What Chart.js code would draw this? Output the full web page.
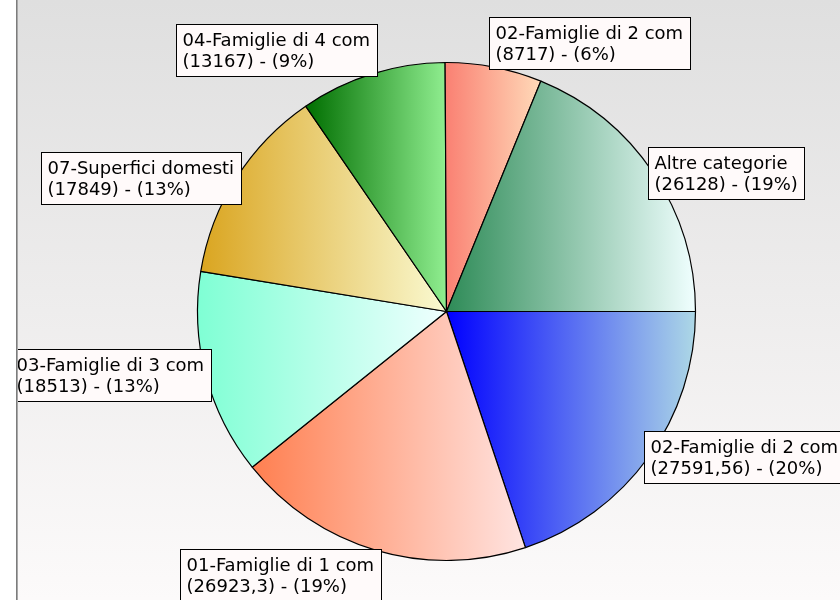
<!DOCTYPE html>
<html>
<head>
<meta charset="utf-8">
<script src="https://cdn.jsdelivr.net/npm/chart.js@4"></script>
<style>
  body { margin: 0; background: #fff; }
  #wrap { width: 840px; height: 600px; }
</style>
</head>
<body>
<div id="wrap"><canvas id="pieChart" width="840" height="600"></canvas></div>
<script>
// Data
const categories = ['02-Famiglie di 2 com', '01-Famiglie di 1 com', '03-Famiglie di 3 com',
    '07-Superfici domesti', '04-Famiglie di 4 com', '02-Famiglie di 2 com', 'Altre categorie'];
const values = [27591.56, 26923.3, 18513, 17849, 13167, 8717, 26128];

// slice gradients, left -> right
const colorFrom = ['#0000ff', '#ff7f50', '#7fffd4', '#daa520', '#006e00', '#fa8072', '#2e8b57'];
const colorTo = ['#add8e6', '#ffe4e1', '#f0ffff', '#fafad2', '#90ee90', '#ffdab9', '#f0ffff'];

const FRAME_X = 17;
const LABEL_FONT = '18px "DejaVu Sans", Verdana, sans-serif';

// background: white strip, gray frame line, vertical gradient
const backgroundPlugin = {
    id: 'background',
    beforeDraw(chart) {
        const ctx = chart.ctx;
        const w = chart.width, h = chart.height;
        ctx.save();
        ctx.fillStyle = '#ffffff';
        ctx.fillRect(0, 0, w, h);
        const g = ctx.createLinearGradient(0, 0, 0, h);
        g.addColorStop(0, '#dfdfdf');
        g.addColorStop(1, '#fcfafa');
        ctx.fillStyle = g;
        ctx.fillRect(FRAME_X + 1, 0, w - FRAME_X - 1, h);
        ctx.fillStyle = '#7c7c7c';
        ctx.fillRect(FRAME_X - 1, 0, 1, h);
        ctx.fillStyle = '#a8a8a8';
        ctx.fillRect(FRAME_X, 0, 1, h);
        ctx.restore();
    }
};

// does the angle range [a0, a1] contain angle t (mod 2pi)
function containsAngle(a0, a1, t) {
    const TWO_PI = Math.PI * 2;
    let s = ((a0 % TWO_PI) + TWO_PI) % TWO_PI;
    let e = s + (a1 - a0);
    for (let k = 0; k < 3; k++) {
        const tt = t + k * TWO_PI;
        if (tt >= s && tt <= e) return true;
    }
    return false;
}

// horizontal gradient across each slice's own width
const sliceGradientPlugin = {
    id: 'sliceGradient',
    beforeDatasetsDraw(chart) {
        const ctx = chart.ctx;
        const meta = chart.getDatasetMeta(0);
        meta.data.forEach((el, i) => {
            const {x, startAngle, endAngle, outerRadius} = el.getProps(['x', 'startAngle', 'endAngle', 'outerRadius'], true);
            const xs = [x, x + outerRadius * Math.cos(startAngle), x + outerRadius * Math.cos(endAngle)];
            if (containsAngle(startAngle, endAngle, 0)) xs.push(x + outerRadius);
            if (containsAngle(startAngle, endAngle, Math.PI)) xs.push(x - outerRadius);
            const g = ctx.createLinearGradient(Math.min(...xs), 0, Math.max(...xs), 0);
            g.addColorStop(0, colorFrom[i]);
            g.addColorStop(1, colorTo[i]);
            el.options.backgroundColor = g;
        });
    }
};

// boxed labels outside the slices
const labelPlugin = {
    id: 'boxLabels',
    afterDatasetsDraw(chart) {
        const ctx = chart.ctx;
        const meta = chart.getDatasetMeta(0);
        const total = values.reduce((a, b) => a + b, 0);
        ctx.save();
        ctx.beginPath();
        ctx.rect(FRAME_X + 1, 0, chart.width, chart.height);
        ctx.clip();
        ctx.font = LABEL_FONT;
        meta.data.forEach((el, i) => {
            const {x, y, startAngle, endAngle, outerRadius} = el.getProps(['x', 'y', 'startAngle', 'endAngle', 'outerRadius'], true);
            const mid = (startAngle + endAngle) / 2;
            const cos = Math.cos(mid), sin = Math.sin(mid);
            const ax = x + outerRadius * cos;
            const ay = y + outerRadius * sin;

            const pct = Math.round(values[i] / total * 100);
            const lines = [categories[i], '(' + String(values[i]).replace('.', ',') + ') - (' + pct + '%)'];
            const textW = Math.max(...lines.map(l => ctx.measureText(l).width));
            const boxW = Math.round(textW + 13);
            const boxH = 52;

            let left = cos >= 0 ? ax - 5 : ax + 5 - boxW;
            let top;
            if (sin > 0.8) top = ay - 1;
            else if (sin < -0.8) top = ay + 2 - boxH;
            else top = ay - boxH / 2;
            left = Math.round(left) + 0.5;
            top = Math.round(top) + 0.5;

            ctx.fillStyle = '#fffafa';
            ctx.fillRect(left, top, boxW, boxH);
            ctx.strokeStyle = '#000000';
            ctx.lineWidth = 1;
            ctx.strokeRect(left, top, boxW, boxH);

            ctx.fillStyle = '#000000';
            ctx.textBaseline = 'alphabetic';
            ctx.textAlign = 'left';
            ctx.fillText(lines[0], left + 6, top + 21.5);
            ctx.fillText(lines[1], left + 6, top + 42);
        });
        ctx.restore();
    }
};

const pieChart = new Chart(document.getElementById('pieChart').getContext('2d'), {
    type: 'pie',
    data: {
        labels: categories,
        datasets: [{
            data: values,
            backgroundColor: (c) => colorFrom[c.dataIndex],
            borderColor: '#000000',
            borderWidth: 1.2,
            radius: 249,
        }]
    },
    options: {
        responsive: false,
        animation: false,
        events: [],
        rotation: 90,
        layout: { padding: { left: 53, right: 0, top: 23, bottom: 0 } },
        plugins: {
            legend: { display: false },
            tooltip: { enabled: false }
        }
    },
    plugins: [backgroundPlugin, sliceGradientPlugin, labelPlugin]
});
</script>
</body>
</html>
